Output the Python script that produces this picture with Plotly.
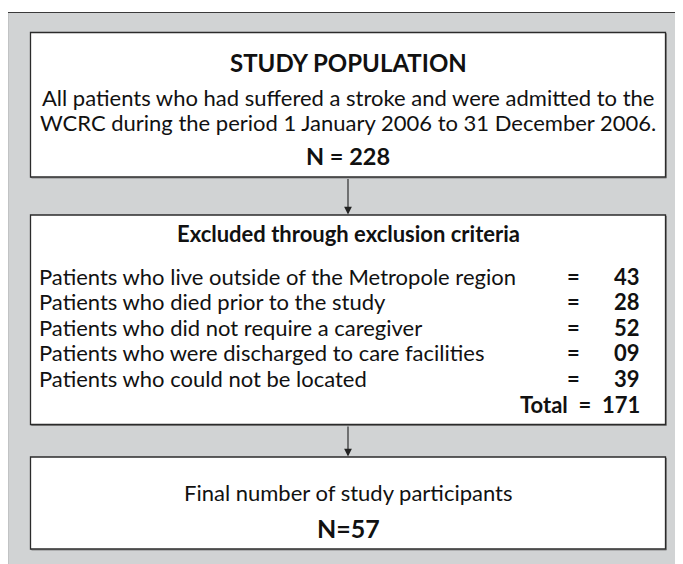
import plotly.graph_objects as go

# ---- data ----
title_top = "STUDY POPULATION"
desc_top = ["All patients who had suffered a stroke and were admitted to the",
            "WCRC during the period 1 January 2006 to 31 December 2006."]
n_total = 228
excl_title = "Excluded through exclusion criteria"
excl_labels = ["Patients who live outside of the Metropole region",
               "Patients who died prior to the study",
               "Patients who did not require a caregiver",
               "Patients who were discharged to care facilities",
               "Patients who could not be located"]
excl_counts = ["43", "28", "52", "09", "39"]
excl_total = 171
final_label = "Final number of study participants"
n_final = 57

FONT = "Lato"
FS = 22
W, H = 683, 564
OFF = 8  # page body margin

fig = go.Figure()
fig.update_layout(
    width=W - OFF, height=H - OFF, margin=dict(l=0, r=0, t=0, b=0),
    paper_bgcolor="white", plot_bgcolor="white",
    xaxis=dict(range=[OFF, W], visible=False, fixedrange=True),
    yaxis=dict(range=[H, OFF], visible=False, fixedrange=True),
    showlegend=False,
)

shapes = []
# outer panel
shapes.append(dict(type="rect", x0=7.5, y0=12.5, x1=W + 5, y1=H + 5,
                   fillcolor="#d1d3d4", line=dict(color="#3a3a3a", width=1.2)))
# boxes
bx0, bx1 = 30.5, 665.5
boxes = [(32.5, 177), (215, 424.5), (457, 549)]
for (y0, y1) in boxes:
    shapes.append(dict(type="rect", x0=bx0 + 1, y0=y0 + 1, x1=bx1 + 1, y1=y1 + 1,
                       fillcolor="rgba(0,0,0,0)", line=dict(color="#888", width=1)))
    shapes.append(dict(type="rect", x0=bx0, y0=y0, x1=bx1, y1=y1,
                       fillcolor="white", line=dict(color="#2b2b2b", width=1.3)))
cx = (bx0 + bx1) / 2
fig.update_layout(shapes=shapes)

ann = []
def txt(x, y, s, bold=False, anchor="center", size=FS):
    ann.append(dict(x=x, y=y, xref="x", yref="y", text=(f"<b>{s}</b>" if bold else s),
                    showarrow=False, xanchor=anchor, yanchor="middle", borderpad=0,
                    font=dict(family=FONT, size=size, color="#111")))

# arrows
for (ya, yb) in [(177, 215), (424.5, 457)]:
    ann.append(dict(x=cx, y=yb - 0.5, ax=cx, ay=ya + 0.5, xref="x", yref="y",
                    axref="x", ayref="y", showarrow=True, arrowhead=2,
                    arrowsize=1.4, arrowwidth=1.1, arrowcolor="#222", text=""))

txt(cx, 62, title_top, bold=True, size=24)
txt(cx, 97, desc_top[0])
txt(cx, 122, desc_top[1])
txt(cx, 156, f"N = {n_total}", bold=True, size=23.5)

txt(cx, 233, excl_title, bold=True, size=22)
row_y = [276, 301.5, 327, 352.5, 378]
for lab, c, y in zip(excl_labels, excl_counts, row_y):
    txt(38, y, lab, anchor="left")
    txt(573, y, "<b>=</b>", size=22)
    txt(641, y, c, bold=True, anchor="right", size=22)
txt(641, 404, f"<b>Total  =  {excl_total}</b>", anchor="right", size=22)

txt(cx, 492, final_label)
txt(cx, 528, f"N={n_final}", bold=True, size=25)

fig.update_layout(annotations=ann)
fig.write_html("out.html")
